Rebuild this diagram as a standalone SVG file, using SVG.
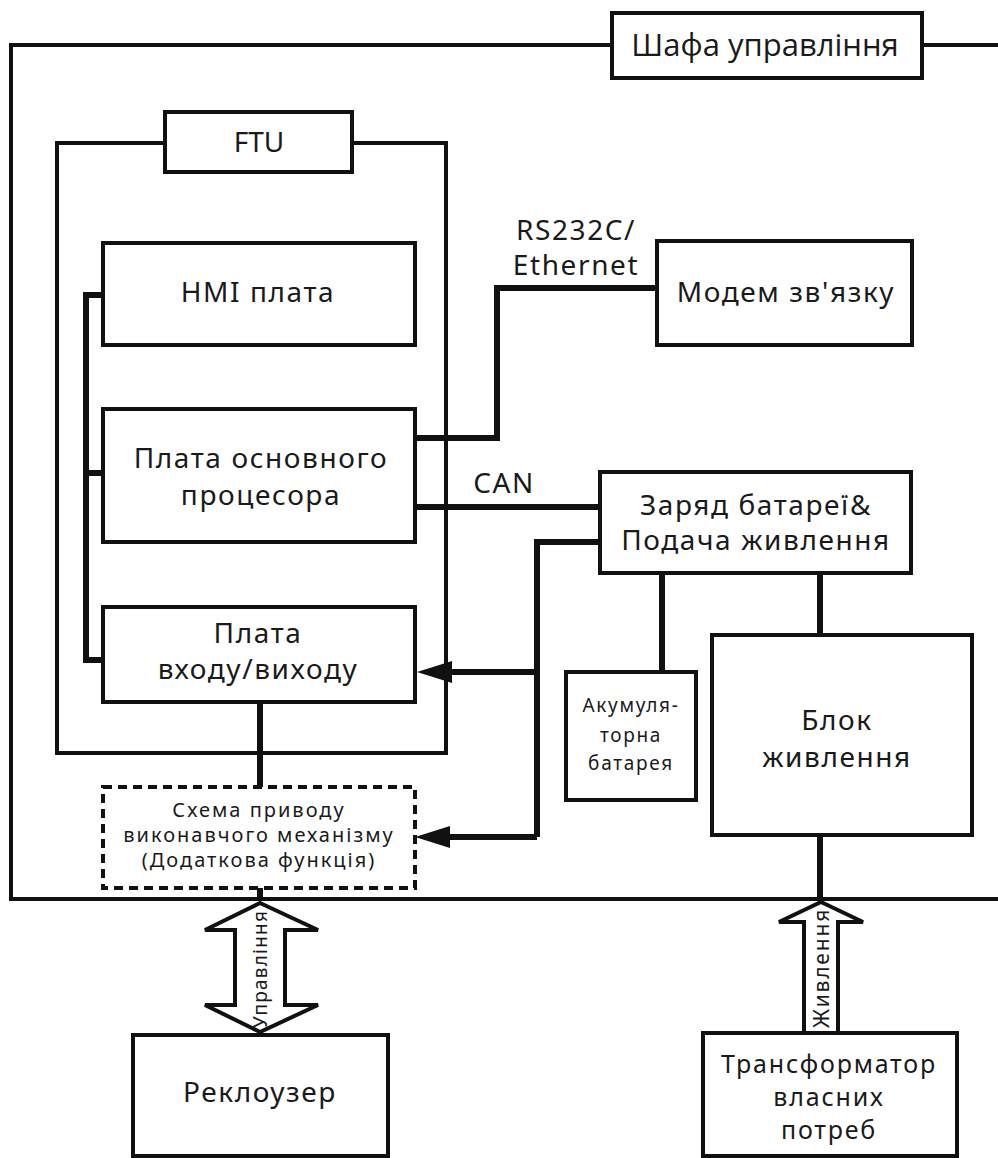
<svg xmlns="http://www.w3.org/2000/svg" width="998" height="1158" viewBox="0 0 998 1158">
  <style>
    .box { fill: #fff; stroke: #111; stroke-width: 4; }
    .dash { fill: #fff; stroke: #111; stroke-width: 4; stroke-dasharray: 9 6; }
    .frame { fill: none; stroke: #111; stroke-width: 4; }
    .wire { fill: none; stroke: #111; stroke-width: 6; stroke-linejoin: miter; }
    .fat { fill: #fff; stroke: #111; stroke-width: 4; stroke-linejoin: miter; }
    text { font-family: "Noto Sans", "Open Sans", sans-serif; fill: #1a1a1a; text-anchor: middle; }
    .title { font-family: "Open Sans", "Noto Sans", sans-serif; font-size: 31px; }
    .lg { font-size: 28px; letter-spacing: 1.6px; }
    .md { font-size: 25px; letter-spacing: 1.8px; }
    .sm { font-size: 20px; letter-spacing: 2px; }
    .xs { font-size: 19px; letter-spacing: 1.7px; }
    .rot { font-size: 19px; letter-spacing: 1.2px; dominant-baseline: central; }
  </style>
  <defs>
    <marker id="head" viewBox="0 -11 35 22" refX="0" refY="0" markerWidth="35" markerHeight="22" markerUnits="userSpaceOnUse" orient="auto">
      <path d="M0,-11 L35,0 L0,11 Z" fill="#111"/>
    </marker>
  </defs>

  <!-- control cabinet outline -->
  <g id="cabinet">
    <path class="frame" d="M612,45 H11 V899 H998 M922,45 H998"/>
    <rect class="box" x="612" y="13" width="310" height="65"/>
    <text class="title" x="765" y="56">Шафа управління</text>
  </g>

  <!-- FTU enclosure -->
  <g id="ftu">
    <path class="frame" d="M165,143 H57 V753 H446 V143 H352"/>
    <rect class="box" x="165" y="112" width="187" height="60"/>
    <text x="259" y="152" style="font-size:28px">FTU</text>
  </g>

  <!-- connectors -->
  <g id="connectors">
    <!-- internal board bus -->
    <path class="wire" d="M103,295 H86 V660 H103 M86,473 H103"/>
    <!-- RS232C / Ethernet link -->
    <path class="wire" d="M415,438 H497 V288 H657"/>
    <!-- CAN link -->
    <path class="wire" d="M415,507 H600"/>
    <!-- power feed to boards -->
    <path class="wire" d="M600,542 H537 V837"/>
    <path class="wire" d="M537,672 H452" marker-end="url(#head)"/>
    <path class="wire" d="M537,837 H450" marker-end="url(#head)"/>
    <!-- I/O board to drive circuit -->
    <path class="wire" d="M260,702 V787 M260,888 V901"/>
    <!-- charger to battery and power supply -->
    <path class="wire" d="M662,573 V672"/>
    <path class="wire" d="M820,573 V635 M820,835 V901"/>
    <!-- control double arrow -->
    <polygon class="fat" points="260,903 318,930 285,930 285,1005 318,1005 260,1032 205,1005 235,1005 235,930 205,930"/>
    <text class="rot" transform="rotate(-90 260 969)" x="260" y="969">Управління</text>
    <!-- supply arrow -->
    <polygon class="fat" points="821,902 863,922 838,922 838,1033 804,1033 804,922 779,922"/>
    <text class="rot" transform="rotate(-90 821 968)" x="821" y="968" style="font-size:21px;letter-spacing:1.8px">Живлення</text>
    <!-- link labels -->
    <text class="lg" x="576" y="240">RS232C/</text>
    <text class="lg" x="576" y="275">Ethernet</text>
    <text class="lg" x="504" y="493">CAN</text>
  </g>

  <g id="hmi">
    <rect class="box" x="103" y="243" width="312" height="102"/>
    <text class="lg" x="258" y="302">HMI плата</text>
  </g>

  <g id="cpu">
    <rect class="box" x="103" y="409" width="312" height="133"/>
    <text class="lg" x="261" y="468">Плата основного</text>
    <text class="lg" x="261" y="505">процесора</text>
  </g>

  <g id="io">
    <rect class="box" x="103" y="607" width="312" height="95"/>
    <text class="lg" x="258" y="643">Плата</text>
    <text class="lg" x="258" y="679">входу/виходу</text>
  </g>

  <g id="drive">
    <rect class="dash" x="103" y="787" width="312" height="101"/>
    <text class="sm" x="259" y="817">Схема приводу</text>
    <text class="sm" x="259" y="842">виконавчого механізму</text>
    <text class="sm" x="259" y="867">(Додаткова функція)</text>
  </g>

  <g id="modem">
    <rect class="box" x="657" y="241" width="255" height="104"/>
    <text class="lg" x="786" y="302">Модем зв'язку</text>
  </g>

  <g id="charger">
    <rect class="box" x="600" y="472" width="311" height="101"/>
    <text class="lg" x="756" y="515">Заряд батареї&amp;</text>
    <text class="lg" x="756" y="550">Подача живлення</text>
  </g>

  <g id="battery">
    <rect class="box" x="566" y="672" width="130" height="128"/>
    <text class="xs" x="631" y="712">Акумуля-</text>
    <text class="xs" x="631" y="742">торна</text>
    <text class="xs" x="631" y="770">батарея</text>
  </g>

  <g id="psu">
    <rect class="box" x="712" y="635" width="260" height="200"/>
    <text class="lg" x="837" y="730">Блок</text>
    <text class="lg" x="837" y="767">живлення</text>
  </g>

  <g id="recloser">
    <rect class="box" x="133" y="1035" width="255" height="121"/>
    <text class="lg" x="260" y="1102">Реклоузер</text>
  </g>

  <g id="transformer">
    <rect class="box" x="703" y="1033" width="254" height="123"/>
    <text class="md" x="829" y="1073">Трансформатор</text>
    <text class="md" x="829" y="1106">власних</text>
    <text class="md" x="829" y="1139">потреб</text>
  </g>
</svg>
